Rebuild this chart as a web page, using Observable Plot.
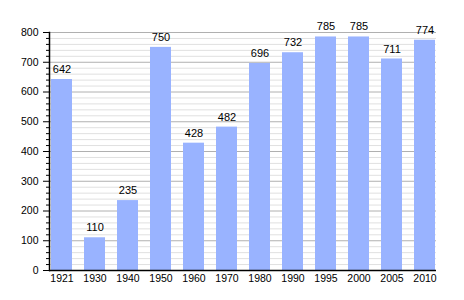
<!DOCTYPE html>
<html>
<head>
<meta charset="utf-8">
<script src="https://cdn.jsdelivr.net/npm/d3@7"></script>
<script src="https://cdn.jsdelivr.net/npm/@observablehq/plot@0.6"></script>
<style>
  html, body { margin: 0; padding: 0; background: #fff; }
  svg { display: block; }
</style>
</head>
<body>
<div id="chart"></div>
<script>
const years = ["1921", "1930", "1940", "1950", "1960", "1970", "1980", "1990", "1995", "2000", "2005", "2010"];
const population = [642, 110, 235, 750, 428, 482, 696, 732, 785, 785, 711, 774];
const majorTicks = [0, 100, 200, 300, 400, 500, 600, 700, 800];
const minorTicks = d3.range(0, 801, 20).filter(v => v % 100 !== 0);

const data = years.map((y, i) => ({year: y, value: population[i]}));

const chart = Plot.plot({
  width: 464,
  height: 300,
  marginLeft: 49,
  marginRight: 28,
  marginTop: 32,
  marginBottom: 30,
  style: {fontFamily: "'Liberation Sans', Arial, sans-serif", fontSize: "10px", color: "#000", background: "#fff"},
  x: {domain: years, paddingInner: 0.37, paddingOuter: 0, label: null},
  y: {domain: [0, 800], label: null},
  marks: [
    Plot.ruleY(minorTicks, {stroke: "#e0e0e0", strokeWidth: 1}),
    Plot.ruleY(majorTicks, {stroke: "#b0b0b0", strokeWidth: 1}),
    Plot.barY(data, {x: "year", y: "value", fill: "#99b3ff"}),
    Plot.text(data, {x: "year", y: "value", text: d => String(d.value), dy: -10, fill: "#000", fontSize: 11}),
    Plot.axisY(minorTicks, {tickSize: 3, text: null, label: null, stroke: "#000"}),
    Plot.axisY(majorTicks, {tickSize: 6, tickPadding: 5, label: null, stroke: "#000", fontSize: 10.5}),
    Plot.axisX({tickSize: 0, tickPadding: 4, label: null, fontSize: 10.5}),
    Plot.ruleY([0], {stroke: "#000", strokeWidth: 1.5}),
    Plot.frame({anchor: "left", stroke: "#000", strokeWidth: 1.5})
  ]
});
document.getElementById("chart").appendChild(chart);
</script>
</body>
</html>
